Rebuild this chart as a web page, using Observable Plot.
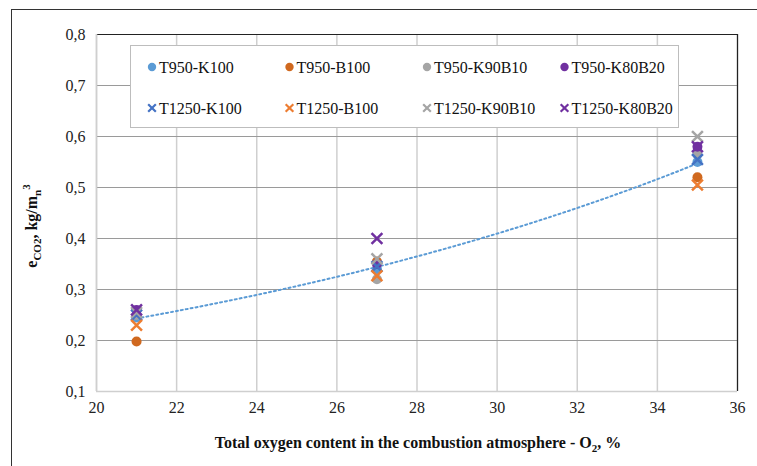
<!DOCTYPE html>
<html>
<head>
<meta charset="utf-8">
<script src="https://cdn.jsdelivr.net/npm/d3@7"></script>
<script src="https://cdn.jsdelivr.net/npm/@observablehq/plot@0.6"></script>
<style>
  html, body { margin: 0; padding: 0; background: #fff; }
  #wrap { position: relative; width: 757px; height: 466px; overflow: hidden; }
  #outer { position: absolute; left: 11px; top: 9px; width: 800px; height: 520px; border: 1px solid #333; pointer-events: none; }
</style>
</head>
<body>
<div id="wrap"><div id="outer"></div></div>
<script>
// ---- data ----
const o2 = [21, 27, 35];
const seriesNames = ["T950-K100", "T950-B100", "T950-K90B10", "T950-K80B20",
                     "T1250-K100", "T1250-B100", "T1250-K90B10", "T1250-K80B20"];
const seriesColors = ["#5B9BD5", "#D0691F", "#A5A5A5", "#7030A0",
                      "#4472C4", "#ED7D31", "#A5A5A5", "#7030A0"];
const seriesSymbols = ["circle", "circle", "circle", "circle", "times", "times", "times", "times"];
const t950K100    = [0.245, 0.340, 0.550];
const t950B100    = [0.198, 0.355, 0.520];
const t950K90B10  = [0.250, 0.320, 0.565];
const t950K80B20  = [0.260, 0.350, 0.580];
const t1250K100   = [0.250, 0.345, 0.555];
const t1250B100   = [0.230, 0.327, 0.505];
const t1250K90B10 = [0.255, 0.360, 0.600];
const t1250K80B20 = [0.260, 0.400, 0.580];
const xTicks = [20, 22, 24, 26, 28, 30, 32, 34, 36];
const yTicks = [0.1, 0.2, 0.3, 0.4, 0.5, 0.6, 0.7, 0.8];

const allValues = [t950K100, t950B100, t950K90B10, t950K80B20, t1250K100, t1250B100, t1250K90B10, t1250K80B20];
const data = [];
allValues.forEach((vals, i) => vals.forEach((v, j) => data.push({series: seriesNames[i], x: o2[j], y: v, symbol: seriesSymbols[i]})));

// exponential trendline of series T950-K100 (least squares on ln y), as Excel does
const tr = o2.map((x, j) => ({x, y: t950K100[j]}));
const mx = d3.mean(tr, d => d.x), my = d3.mean(tr, d => Math.log(d.y));
const b = d3.sum(tr, d => (d.x - mx) * (Math.log(d.y) - my)) / d3.sum(tr, d => (d.x - mx) ** 2);
const a = Math.exp(my - b * mx);
const trend = d3.range(o2[0], o2[o2.length - 1] + 0.001, 0.25).map(x => ({x, y: a * Math.exp(b * x)}));

const fmt = d => d.toFixed(1).replace(".", ",");
const serif = "'Liberation Serif', 'Times New Roman', serif";

const chart = Plot.plot({
  width: 757, height: 466,
  marginLeft: 96, marginRight: 20, marginTop: 34, marginBottom: 75,
  style: {fontFamily: serif, fontSize: "16px", color: "#222", background: "transparent"},
  x: {domain: [20, 36]},
  y: {domain: [0.1, 0.8]},
  color: {domain: seriesNames, range: seriesColors},
  marks: [
    Plot.gridX(xTicks, {stroke: "#cfcfcf", strokeOpacity: 1, strokeWidth: 1.5}),
    Plot.gridY(yTicks, {stroke: "#9a9a9a", strokeOpacity: 1, strokeWidth: 1}),
    Plot.ruleY([0.8], {stroke: "#222", strokeWidth: 1.2}),
    Plot.ruleX([36], {stroke: "#222", strokeWidth: 1.2}),
    Plot.ruleX([20], {stroke: "#cfcfcf", strokeWidth: 1.5}),
    Plot.ruleY([0.1], {stroke: "#cfcfcf", strokeWidth: 1.5}),
    Plot.axisX(xTicks, {tickSize: 0, tickPadding: 10, label: null, fontSize: 16, fontFamily: serif, fill: "#222"}),
    Plot.axisY(yTicks, {tickSize: 0, tickPadding: 11, tickFormat: fmt, label: null, fontSize: 16, fontFamily: serif, fill: "#222"}),
    Plot.line(trend, {x: "x", y: "y", stroke: "#5B9BD5", strokeWidth: 2, strokeDasharray: "2 3", curve: "linear"}),
    Plot.dot(data.filter(d => d.symbol === "circle"), {x: "x", y: "y", fill: "series", r: 5, symbol: "circle"}),
    Plot.dot(data.filter(d => d.symbol === "times"), {x: "x", y: "y", stroke: "series", r: 5, strokeWidth: 2.5, symbol: "times"})
  ]
});

document.getElementById("wrap").prepend(chart);

const svg = d3.select(chart);

// legend box
const lg = svg.append("g").attr("font-family", serif).attr("font-size", 16).attr("text-anchor", "start");
lg.append("rect").attr("x", 130.5).attr("y", 45.5).attr("width", 548).attr("height", 82)
  .attr("fill", "#fff").attr("stroke", "#bdbdbd");
seriesNames.forEach((name, i) => {
  const col = i % 4, row = Math.floor(i / 4);
  const cx = 152 + col * 137.5, cy = 67 + row * 41;
  const sym = seriesSymbols[i] === "circle" ? d3.symbolCircle : d3.symbolTimes;
  const size = seriesSymbols[i] === "circle" ? 55 : 40;
  const p = lg.append("path").attr("transform", `translate(${cx},${cy})`)
    .attr("d", d3.symbol(sym, size)());
  if (seriesSymbols[i] === "circle") p.attr("fill", seriesColors[i]);
  else p.attr("fill", "none").attr("stroke", seriesColors[i]).attr("stroke-width", 2.2);
  lg.append("text").attr("x", cx + 7).attr("y", cy).attr("dy", "0.35em")
    .attr("text-anchor", "start").attr("font-family", serif).attr("fill", "#111").text(name);
});

// y axis title
const yt = svg.append("text").attr("transform", "translate(37,226) rotate(-90)")
  .attr("text-anchor", "middle").attr("font-family", serif).attr("font-weight", "bold")
  .attr("font-size", 16).attr("fill", "#111");
yt.append("tspan").text("e");
yt.append("tspan").attr("font-size", 11).attr("dy", 4).text("CO2");
yt.append("tspan").attr("dy", -4).text(", kg/m");
yt.append("tspan").attr("font-size", 11).attr("dy", 4).text("n");
yt.append("tspan").attr("font-size", 11).attr("dy", -11).text("3");

// x axis title
const xt = svg.append("text").attr("x", 418).attr("y", 448)
  .attr("text-anchor", "middle").attr("font-family", serif).attr("font-weight", "bold")
  .attr("font-size", 16).attr("fill", "#111");
xt.append("tspan").text("Total oxygen content in the combustion atmosphere - O");
xt.append("tspan").attr("font-size", 11).attr("dy", 4).text("2");
xt.append("tspan").attr("dy", -4).text(", %");
</script>
</body>
</html>
